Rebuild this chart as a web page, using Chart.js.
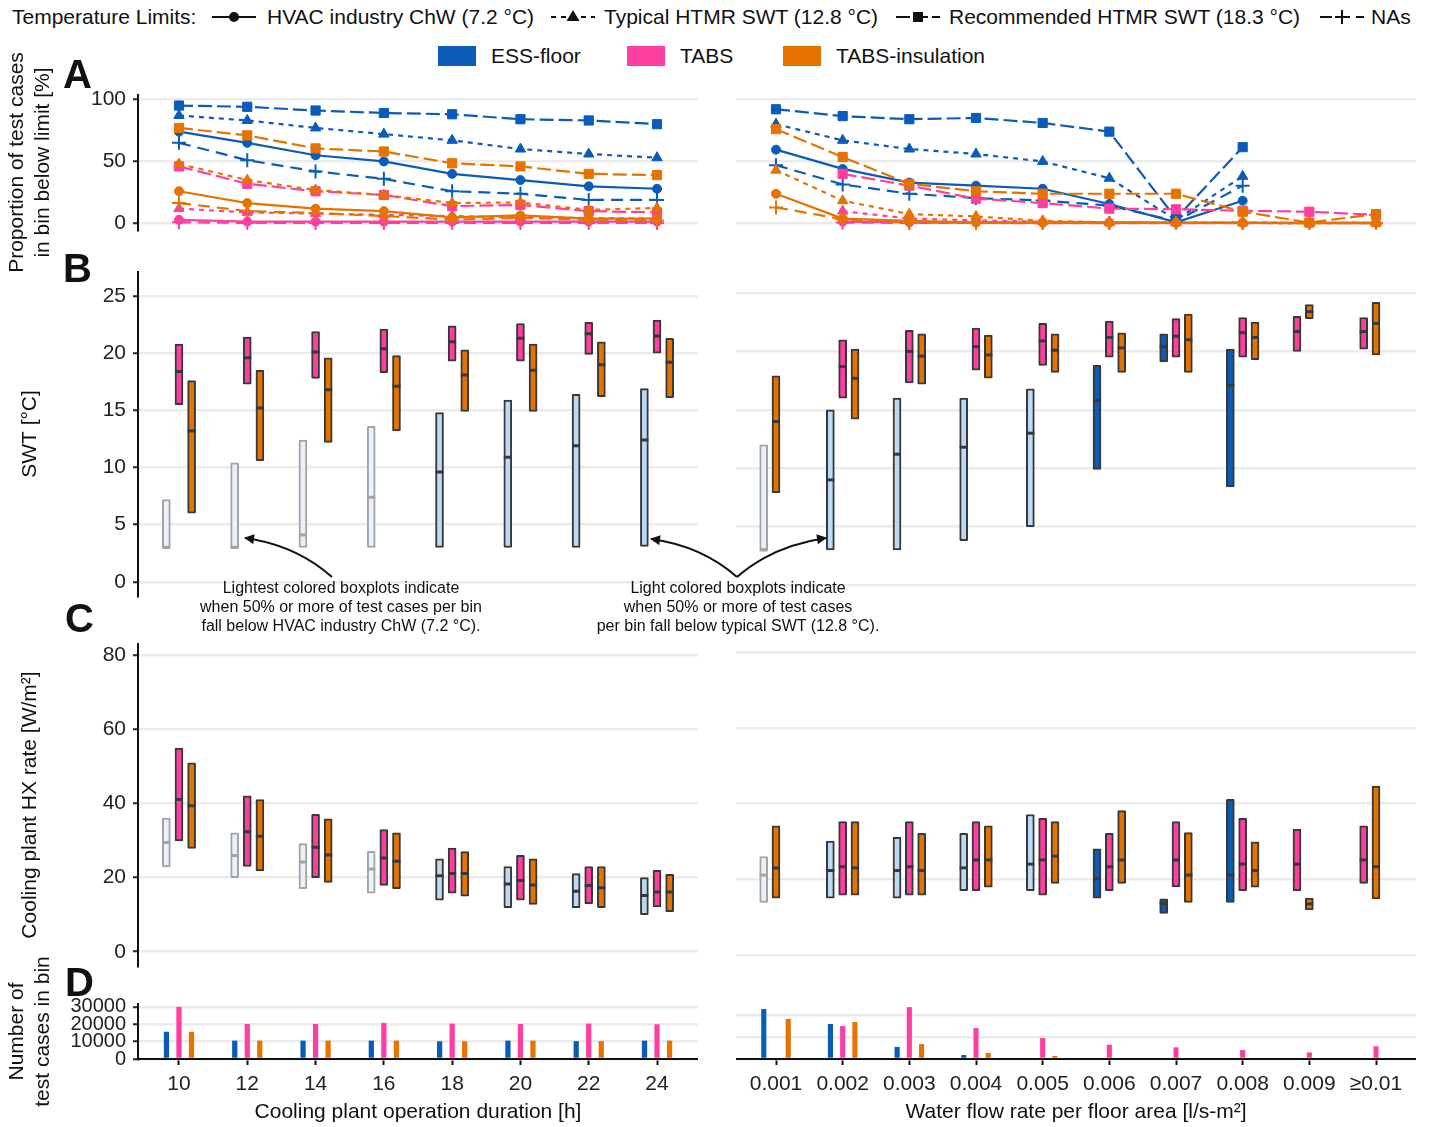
<!DOCTYPE html>
<html>
<head>
<meta charset="utf-8">
<script src="https://cdn.jsdelivr.net/npm/chart.js@4.4.0/dist/chart.umd.min.js"></script>
<style>
  body { margin: 0; background: #fff; font-family: "Liberation Sans", Arial, sans-serif; color: #111; }
  #wrap { position: relative; width: 1431px; height: 1127px; overflow: hidden; }
  canvas { position: absolute; }
  .t { position: absolute; white-space: nowrap; font-size: 21px; line-height: 24px; }
  .lab { position: absolute; font-weight: bold; font-size: 40px; line-height: 40px; }
  .note { position: absolute; width: 400px; text-align: center; font-size: 16px; line-height: 19px; }
  .sw { position: absolute; width: 38px; height: 20px; top: 46px; }
  .ico { position: absolute; top: 7px; }
  #arrows { position: absolute; left: 0; top: 0; pointer-events: none; }
</style>
</head>
<body>
<div id="wrap">
  <!-- legend row 1 -->
  <div class="t" style="left:12px;top:5px">Temperature Limits:</div>
  <svg class="ico" style="left:212px" width="44" height="20"><line x1="0" y1="10" x2="44" y2="10" stroke="#111" stroke-width="2.2"/><circle cx="22" cy="10" r="5" fill="#111"/></svg>
  <div class="t" style="left:267px;top:5px">HVAC industry ChW (7.2 °C)</div>
  <svg class="ico" style="left:551px" width="44" height="20"><line x1="0" y1="10" x2="44" y2="10" stroke="#111" stroke-width="2.2" stroke-dasharray="5 5"/><polygon points="22,3 28.5,14 15.5,14" fill="#111"/></svg>
  <div class="t" style="left:604px;top:5px">Typical HTMR SWT (12.8 °C)</div>
  <svg class="ico" style="left:896px" width="44" height="20"><line x1="0" y1="10" x2="44" y2="10" stroke="#111" stroke-width="2.2" stroke-dasharray="14 4"/><rect x="17" y="5" width="10" height="10" fill="#111"/></svg>
  <div class="t" style="left:949px;top:5px">Recommended HTMR SWT (18.3 °C)</div>
  <svg class="ico" style="left:1320px" width="44" height="20"><line x1="0" y1="10" x2="44" y2="10" stroke="#111" stroke-width="2.2" stroke-dasharray="12 6"/><line x1="15" y1="10" x2="29" y2="10" stroke="#111" stroke-width="2"/><line x1="22" y1="3" x2="22" y2="17" stroke="#111" stroke-width="2"/></svg>
  <div class="t" style="left:1371px;top:5px">NAs</div>

  <!-- legend row 2 -->
  <div class="sw" style="left:438px;background:#0A5CB8"></div>
  <div class="t" style="left:491px;top:44px">ESS-floor</div>
  <div class="sw" style="left:627px;background:#FF3FA0"></div>
  <div class="t" style="left:680px;top:44px">TABS</div>
  <div class="sw" style="left:783px;background:#E67300"></div>
  <div class="t" style="left:836px;top:44px">TABS-insulation</div>
</div>

<script>
// categories
const durLabels = ['10', '12', '14', '16', '18', '20', '22', '24'];
const flowLabels = ['0.001', '0.002', '0.003', '0.004', '0.005', '0.006', '0.007', '0.008', '0.009', '≥0.01'];

// A: proportion of test cases in bin below limit [%]  (order: ChW 7.2, SWT 12.8, SWT 18.3, NAs)
const essChwDur = [74, 65, 55, 50, 40, 35, 30, 28];
const essSwtDur = [87, 83, 77, 72, 67, 60, 56, 53];
const essRecDur = [95, 94, 91, 89, 88, 84, 83, 80];
const essNaDur = [65, 51, 42, 36, 26, 24, 19, 19];
const tabsChwDur = [3, 1.5, 1.5, 1.5, 1.5, 1.5, 1.5, 1.5];
const tabsSwtDur = [12, 9, 8, 7, 6, 5, 4.5, 4];
const tabsRecDur = [46, 32, 26, 23, 14, 15, 10, 9];
const tabsNaDur = [1, 0.5, 0.5, 0.5, 0.5, 0.5, 0.5, 0.5];
const insChwDur = [26, 16.5, 12, 10, 5, 6.6, 4, 4];
const insSwtDur = [48, 35, 27, 23, 16.5, 17, 11, 12.5];
const insRecDur = [77, 71, 60.5, 58, 48.5, 46, 40, 39];
const insNaDur = [16.5, 10, 8.5, 6, 3.2, 4.5, 3.2, 2.4];

const essChwFlow = [59.5, 44, 33, 30.5, 28, 15.7, 1, 18.4, null, null];
const essSwtFlow = [80, 67, 60, 56, 50, 36.5, 3, 38, null, null];
const essRecFlow = [92, 86.5, 84, 85, 81, 74, 4, 61.5, null, null];
const essNaFlow = [47, 31.5, 24, 20.5, 18.5, 14.5, 2, 30.5, null, null];
const tabsChwFlow = [null, 1.5, 1, 1, 0.8, 0.8, 0.5, 0.5, 0.5, 0.5];
const tabsSwtFlow = [null, 10, 4, 2.5, 1.5, 1, 0.8, 0.8, 0.5, 0.5];
const tabsRecFlow = [null, 40, 30.5, 20, 16.5, 12, 11.5, 10.3, 9.5, 7];
const tabsNaFlow = [null, 0.8, 0.5, 0.5, 0.3, 0.3, 0.3, 0.3, 0.3, 0.3];
const insChwFlow = [24, 4, 2.2, 1, 0.8, 0.6, 0.5, 0.5, 0.5, 0.5];
const insSwtFlow = [43, 18.4, 7.6, 5.7, 2.2, 1, 0.5, 0.5, 0.3, 0.3];
const insRecFlow = [76, 53.5, 32, 26, 24, 24, 24, 9.5, 0.8, 7.6];
const insNaFlow = [13, 3.5, 1, 0.5, 0.5, 0.5, 0.5, 0.5, 0.3, 0.3];

// B: SWT [°C] boxes as [low, median, high]
const swtEssDur = [[3.0, 3.0, 7.2], [3.0, 3.0, 10.4], [3.0, 4.1, 12.4], [3.0, 7.4, 13.6], [3.0, 9.6, 14.8], [3.0, 10.9, 15.9], [3.0, 11.9, 16.4], [3.1, 12.4, 16.9]];
const swtTabsDur = [[15.5, 18.4, 20.8], [17.3, 19.6, 21.4], [17.8, 20.1, 21.9], [18.3, 20.4, 22.1], [19.3, 21.0, 22.4], [19.3, 21.3, 22.6], [19.9, 21.7, 22.7], [20.0, 21.5, 22.9]];
const swtInsDur = [[6.0, 13.2, 17.6], [10.6, 15.2, 18.5], [12.2, 16.8, 19.6], [13.2, 17.1, 19.8], [14.9, 18.1, 20.3], [14.9, 18.5, 20.8], [16.2, 19.0, 21.0], [16.1, 19.2, 21.3]];
const swtEssFlow = [[3.0, 3.0, 12.0], [3.0, 9.0, 15.0], [3.0, 11.2, 16.0], [3.8, 11.8, 16.0], [5.0, 13.0, 16.8], [9.9, 15.8, 18.8], [19.1, 20.4, 21.5], [8.4, 17.1, 20.2], null, null];
const swtTabsFlow = [null, [16.0, 18.7, 21.0], [17.3, 20.0, 21.8], [18.4, 20.4, 22.0], [18.8, 20.9, 22.4], [19.5, 21.2, 22.6], [19.5, 21.3, 22.8], [19.5, 21.6, 22.9], [20.0, 21.7, 23.0], [20.2, 21.7, 22.9]];
const swtInsFlow = [[7.9, 14.0, 17.9], [14.2, 17.7, 20.2], [17.2, 19.6, 21.5], [17.7, 19.7, 21.4], [18.2, 20.1, 21.5], [18.2, 20.3, 21.6], [18.2, 21.0, 23.2], [19.3, 21.2, 22.5], [22.8, 23.4, 24.0], [19.7, 22.4, 24.2]];

// C: cooling plant HX rate [W/m²] boxes as [low, median, high]
const hxEssDur = [[22.9, 29.5, 36.1], [20.0, 26.0, 32.1], [17.0, 24.2, 29.2], [15.8, 22.3, 27.1], [13.9, 20.5, 25.1], [11.9, 18.3, 23.0], [11.9, 16.3, 21.1], [10.0, 15.2, 20.0]];
const hxTabsDur = [[29.9, 41.1, 55.0], [23.0, 32.4, 42.1], [20.0, 28.2, 37.1], [17.9, 25.3, 33.0], [15.8, 21.1, 28.0], [13.9, 19.2, 26.0], [13.0, 17.9, 23.0], [12.1, 16.1, 22.0]];
const hxInsDur = [[27.9, 39.4, 51.0], [21.8, 31.2, 41.1], [18.7, 26.1, 35.9], [17.0, 24.4, 32.1], [15.0, 21.1, 27.0], [12.8, 18.0, 25.1], [11.9, 17.3, 23.0], [10.8, 16.1, 20.9]];
const hxEssFlow = [[13.9, 21.1, 26.0], [15.0, 22.3, 30.1], [15.0, 22.3, 31.1], [17.0, 23.0, 32.1], [17.0, 24.0, 37.1], [15.0, 20.2, 28.0], [11.0, 13.6, 14.8], [13.9, 21.1, 41.1], null, null];
const hxTabsFlow = [null, [15.8, 23.3, 35.2], [15.8, 23.3, 35.2], [17.0, 25.1, 35.2], [15.8, 25.1, 36.1], [17.0, 23.3, 32.1], [18.0, 25.1, 35.2], [17.0, 24.0, 36.1], [17.0, 24.0, 33.2], [18.9, 25.1, 34.1]];
const hxInsFlow = [[15.0, 23.0, 34.1], [15.8, 23.0, 35.2], [15.8, 22.3, 32.1], [17.9, 25.1, 34.1], [18.9, 26.1, 35.2], [18.9, 25.1, 38.1], [13.9, 21.1, 32.3], [17.9, 22.3, 29.9], [11.9, 13.5, 15.0], [14.8, 23.3, 44.6]];

// D: number of test cases in bin
const countEssDur = [15700, 10600, 10600, 10600, 10200, 10600, 10300, 10600];
const countTabsDur = [30000, 20200, 20200, 20800, 20400, 20200, 20400, 20000];
const countInsDur = [15700, 10600, 10600, 10600, 10200, 10600, 10300, 10600];
const countEssFlow = [22700, 15900, 5500, 1800, null, null, null, null, null, null];
const countTabsFlow = [null, 15000, 23600, 14100, 9500, 6500, 5300, 4100, 3000, 5800];
const countInsFlow = [18200, 16800, 6800, 2700, 1400, null, null, null, null, null];

// tick values
const ticksA = [0, 50, 100];
const ticksB = [0, 5, 10, 15, 20, 25];
const ticksC = [0, 20, 40, 60, 80];
const ticksDdur = [0, 10000, 20000, 30000];
const ticksDflow = [0, 10000, 20000];

// ── styling ──
const ESS = '#0A5CB8', TABS = '#FF3FA0', INS = '#E67300';
const EDGE = '#383838';

Chart.defaults.font.family = '"Liberation Sans", Arial, sans-serif';
Chart.defaults.color = '#222';

const limitStyles = [
  { point: 'circle', radius: 4.5, dash: [] },
  { point: 'triangle', radius: 6, dash: [5, 5] },
  { point: 'rect', radius: 6.5, dash: [14, 5] },
  { point: 'cross', radius: 7, dash: [12, 7] }
];

// canvas columns and rows; chart areas: A 95–230, B 268–600, C 640–970, D 1004–1059
const LEFT = { x: 0, w: 698, yw: 138 };
const RIGHT = { x: 736, w: 680, yw: 0 };
const ROW_A = { top: 35, h: 255, padTop: 60, padBottom: 60 };
const ROW_B = { top: 252, h: 364, padTop: 16, padBottom: 16 };
const ROW_C = { top: 624, h: 362, padTop: 16, padBottom: 16 };
const ROW_D = { top: 944, h: 183, padTop: 60, padBottom: 0 };

function place(col, row) {
  const c = document.createElement('canvas');
  c.width = col.w;
  c.height = row.h;
  c.style.left = col.x + 'px';
  c.style.top = row.top + 'px';
  document.getElementById('wrap').appendChild(c);
  return c;
}

function xAxis(labels, show, title) {
  return {
    type: 'linear', display: show, offset: false,
    min: -0.6, max: labels.length - 0.4,
    afterBuildTicks: s => { s.ticks = labels.map((_, i) => ({ value: i })); },
    afterFit: s => { s.height = show ? 68 : 0; },
    ticks: { autoSkip: false, maxRotation: 0, minRotation: 0, padding: 7, color: '#222', font: { size: 21 }, callback: v => labels[v] },
    grid: { offset: false, drawOnChartArea: false, tickLength: 6, tickColor: '#111', tickWidth: 2 },
    border: { color: '#111', width: 2 },
    title: { display: !!title, text: title, color: '#111', font: { size: 21 }, padding: { top: 0, bottom: 2 } }
  };
}

function yAxis(col, min, max, ticks, title, titlePad, tickSize) {
  const left = col.yw > 0;
  return {
    min, max,
    afterBuildTicks: s => { s.ticks = ticks.map(v => ({ value: v })); },
    afterFit: s => { s.width = col.yw; },
    ticks: { display: left, autoSkip: false, padding: 7, color: '#222', font: { size: tickSize || 21 }, callback: v => String(v) },
    grid: { color: '#ebebeb', lineWidth: 2.5, drawTicks: left, tickLength: 5, tickColor: '#222', tickWidth: 2 },
    border: { display: left, color: '#111', width: 2 },
    title: { display: left && !!title, text: title, color: '#111', font: { size: 21 }, padding: { top: titlePad || 0, bottom: 0 } }
  };
}

function makeChart(col, row, type, datasets, x, y) {
  return new Chart(place(col, row), {
    type,
    data: { datasets },
    options: {
      responsive: false, animation: false, devicePixelRatio: 1,
      layout: { autoPadding: false, padding: { top: row.padTop, bottom: row.padBottom, left: 0, right: 0 } },
      plugins: { legend: { display: false }, tooltip: { enabled: false } },
      scales: { x, y }
    }
  });
}

// A: one line per temperature limit, per system
function limitSets(groups) {
  const out = [];
  groups.forEach(g => {
    limitStyles.forEach((st, k) => {
      const pts = [];
      g.vals[k].forEach((v, i) => { if (v != null) pts.push({ x: i, y: v }); });
      out.push({
        type: 'line', data: pts, tension: 0,
        borderColor: g.color, backgroundColor: g.color, borderWidth: 2.2, borderDash: st.dash,
        pointStyle: st.point, pointRadius: st.radius,
        pointBackgroundColor: g.color, pointBorderColor: g.color,
        pointBorderWidth: st.point === 'cross' ? 2 : 1
      });
    });
  });
  return out;
}

// ESS box shade follows panel A: lightest when >=50% below 7.2 °C, light when >=50% below 12.8 °C
function essShade(chw, swt) {
  return i => {
    if (chw[i] != null && chw[i] >= 50) return { fill: '#E9F2FB', line: '#A3A3A3' };
    if (swt[i] != null && swt[i] >= 50) return { fill: '#BCD9F6', line: EDGE };
    return { fill: ESS, line: EDGE };
  };
}

// B, C: boxes (low–high) with a median band, dodged among the systems present in each bin
function boxSets(series, n) {
  const step = 0.185;
  const sets = [];
  series.forEach(s => {
    const bars = [], meds = [], fills = [], lines = [];
    for (let i = 0; i < n; i++) {
      const v = s.vals[i];
      if (!v) continue;
      const present = series.filter(o => o.vals[i]);
      const x = i + (present.indexOf(s) - 1) * step;
      const st = s.shade ? s.shade(i) : { fill: s.color, line: EDGE };
      bars.push({ x, y: [v[0], v[2]] });
      meds.push({ x, y: v[1] });
      fills.push(st.fill);
      lines.push(st.line);
    }
    sets.push({
      type: 'bar', data: bars, grouped: false, order: 2,
      backgroundColor: fills, borderColor: lines, borderWidth: 2, borderSkipped: false,
      borderRadius: 1, barPercentage: 1, categoryPercentage: 1, maxBarThickness: 8
    });
    sets.push({
      type: 'scatter', data: meds, order: 1,
      pointStyle: 'line', pointRadius: 4, pointBorderWidth: 3, pointBorderColor: lines, borderColor: lines
    });
  });
  return sets;
}

// D: counts, fixed slot per system
function countSets(series) {
  return series.map(s => ({
    type: 'bar',
    data: s.vals.map((v, i) => ({ x: i, y: v })),
    backgroundColor: s.color, borderWidth: 0,
    categoryPercentage: 0.55, barPercentage: 0.42
  }));
}

// ── A ──
makeChart(LEFT, ROW_A, 'line', limitSets([
  { color: INS, vals: [insChwDur, insSwtDur, insRecDur, insNaDur] },
  { color: TABS, vals: [tabsChwDur, tabsSwtDur, tabsRecDur, tabsNaDur] },
  { color: ESS, vals: [essChwDur, essSwtDur, essRecDur, essNaDur] }
]), xAxis(durLabels, false), yAxis(LEFT, -5.2, 103.5, ticksA, ['Proportion of test cases', 'in bin below limit [%]'], 5));

makeChart(RIGHT, ROW_A, 'line', limitSets([
  { color: INS, vals: [insChwFlow, insSwtFlow, insRecFlow, insNaFlow] },
  { color: TABS, vals: [tabsChwFlow, tabsSwtFlow, tabsRecFlow, tabsNaFlow] },
  { color: ESS, vals: [essChwFlow, essSwtFlow, essRecFlow, essNaFlow] }
]), xAxis(flowLabels, false), yAxis(RIGHT, -5.2, 103.5, ticksA));

// ── B ──
makeChart(LEFT, ROW_B, 'bar', boxSets([
  { vals: swtEssDur, shade: essShade(essChwDur, essSwtDur) },
  { vals: swtTabsDur, color: TABS },
  { vals: swtInsDur, color: INS }
], durLabels.length), xAxis(durLabels, false), yAxis(LEFT, -1.28, 27.14, ticksB, 'SWT [°C]', 18));

makeChart(RIGHT, ROW_B, 'bar', boxSets([
  { vals: swtEssFlow, shade: essShade(essChwFlow, essSwtFlow) },
  { vals: swtTabsFlow, color: TABS },
  { vals: swtInsFlow, color: INS }
], flowLabels.length), xAxis(flowLabels, false), yAxis(RIGHT, -1.28, 27.14, ticksB));

// ── C ──
makeChart(LEFT, ROW_C, 'bar', boxSets([
  { vals: hxEssDur, shade: essShade(essChwDur, essSwtDur) },
  { vals: hxTabsDur, color: TABS },
  { vals: hxInsDur, color: INS }
], durLabels.length), xAxis(durLabels, false), yAxis(LEFT, -3.96, 83.17, ticksC, 'Cooling plant HX rate [W/m²]', 18));

makeChart(RIGHT, ROW_C, 'bar', boxSets([
  { vals: hxEssFlow, shade: essShade(essChwFlow, essSwtFlow) },
  { vals: hxTabsFlow, color: TABS },
  { vals: hxInsFlow, color: INS }
], flowLabels.length), xAxis(flowLabels, false), yAxis(RIGHT, -3.96, 83.17, ticksC));

// ── D ──
makeChart(LEFT, ROW_D, 'bar', countSets([
  { vals: countEssDur, color: ESS },
  { vals: countTabsDur, color: TABS },
  { vals: countInsDur, color: INS }
]), xAxis(durLabels, true, 'Cooling plant operation duration [h]'),
  yAxis(LEFT, 0, 31700, ticksDdur, ['Number of', 'test cases in bin'], 5, 20));

makeChart(RIGHT, ROW_D, 'bar', countSets([
  { vals: countEssFlow, color: ESS },
  { vals: countTabsFlow, color: TABS },
  { vals: countInsFlow, color: INS }
]), xAxis(flowLabels, true, 'Water flow rate per floor area [l/s-m²]'),
  yAxis(RIGHT, 0, 25000, ticksDflow));

// ── panel letters and annotations ──
const wrap = document.getElementById('wrap');
[['A', 63, 54], ['B', 63, 248], ['C', 65, 598], ['D', 65, 962]].forEach(([t, l, tp]) => {
  wrap.insertAdjacentHTML('beforeend', `<div class="lab" style="left:${l}px;top:${tp}px">${t}</div>`);
});

[
  { cx: 341, lines: ['Lightest colored boxplots indicate', 'when 50% or more of test cases per bin', 'fall below HVAC industry ChW (7.2 °C).'] },
  { cx: 738, lines: ['Light colored boxplots indicate', 'when 50% or more of test cases', 'per bin fall below typical SWT (12.8 °C).'] }
].forEach(n => {
  const d = document.createElement('div');
  d.className = 'note';
  d.style.left = (n.cx - 200) + 'px';
  d.style.top = '578px';
  d.innerHTML = n.lines.join('<br>');
  wrap.appendChild(d);
});

wrap.insertAdjacentHTML('beforeend', `
<svg id="arrows" width="1431" height="1127">
  <defs>
    <marker id="ah" viewBox="0 0 10 10" refX="9" refY="5" markerUnits="userSpaceOnUse" markerWidth="12" markerHeight="10" orient="auto">
      <path d="M0,0 L10,5 L0,10 z" fill="#111"/>
    </marker>
  </defs>
  <g fill="none" stroke="#111" stroke-width="2">
    <path d="M332,577 Q296,545 245,538" marker-end="url(#ah)"/>
    <path d="M737,577 Q702,546 651,539" marker-end="url(#ah)"/>
    <path d="M737,577 Q772,546 826,538" marker-end="url(#ah)"/>
  </g>
</svg>`);
</script>
</body>
</html>
